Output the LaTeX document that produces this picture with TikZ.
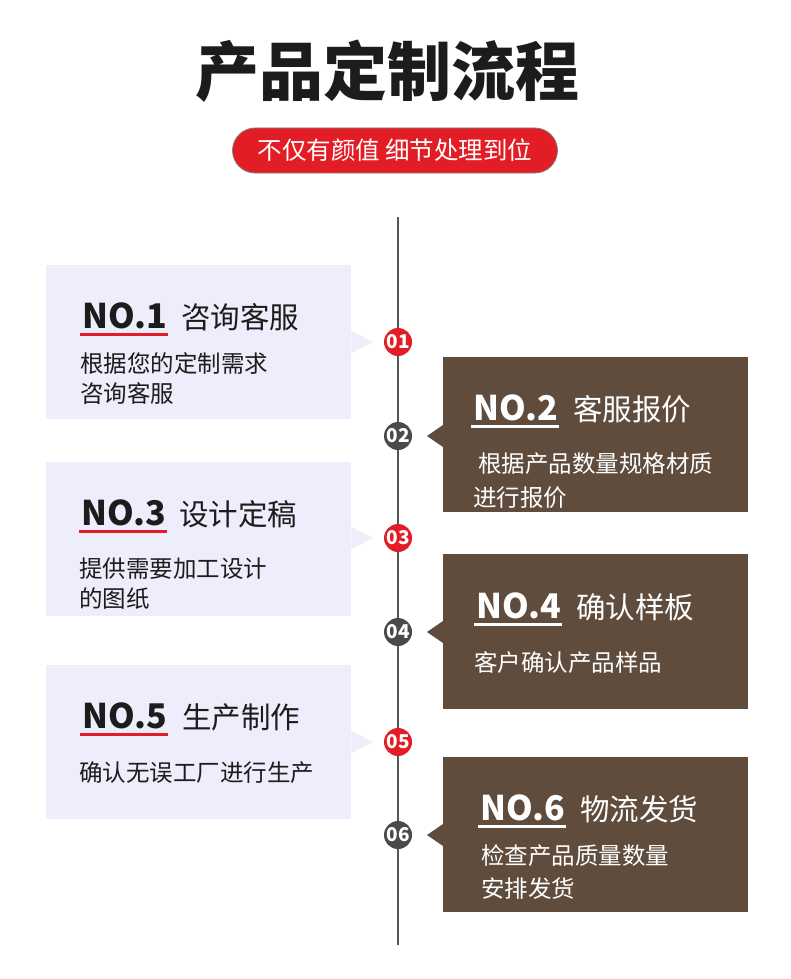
\documentclass[tikz,border=0pt]{standalone}
\usepackage{fontspec}
\setmainfont{Noto Sans CJK SC}
\usepackage{tikz}
\usetikzlibrary{positioning}

\definecolor{lavender}{HTML}{EDEDFB}
\definecolor{cocoa}{HTML}{5F4C3D}
\definecolor{pillred}{HTML}{E31D25}
\definecolor{dotgray}{HTML}{4A4A4A}
\definecolor{linegray}{HTML}{555555}
\definecolor{ink}{HTML}{1C1C1C}

\begin{document}
\begin{tikzpicture}[x=1pt, y=-1pt,
  leftbox/.style={rectangle, fill=lavender, minimum width=305pt, minimum height=154pt, anchor=north west, inner sep=0pt},
  rightbox/.style={rectangle, fill=cocoa, minimum width=305pt, minimum height=155pt, anchor=north west, inner sep=0pt},
  reddot/.style={circle, fill=pillred, minimum size=28pt, inner sep=0pt, text=white, font=\bfseries\fontsize{19}{19}\selectfont},
  graydot/.style={reddot, fill=dotgray},
  numtxt/.style={anchor=base west, inner sep=0pt, font=\bfseries\fontsize{34}{34}\selectfont},
  headtxt/.style={anchor=base west, inner sep=0pt, font=\fontsize{29.5}{29.5}\selectfont},
  bodytxt/.style={anchor=north west, inner sep=0pt, align=left, font=\fontsize{23.5}{30}\selectfont},
  redrule/.style={draw=pillred, line width=2.5pt},
  whiterule/.style={draw=white, line width=2.5pt}
]
\useasboundingbox (0,0) rectangle (790,979);

% Title and red tag
\node[font=\bfseries\fontsize{64}{64}\selectfont, text=ink] (title) at (387,71) {产品定制流程};
\node[rectangle, rounded corners=22.5pt, fill=pillred, draw=gray, line width=0.8pt,
      minimum width=325pt, minimum height=45pt, text=white,
      font=\fontsize{24.5}{24.5}\selectfont] (tag) at (395,150.5) {不仅有颜值 细节处理到位};

% Time line
\coordinate (top) at (398,217);
\coordinate (bot) at (398,945);
\draw[linegray, line width=1.5pt] (top) -- (bot);

% Boxes, left column light, right column brown
\node[leftbox]  (b1) at (46,265) {};
\node[rightbox] (b2) at (443,357) {};
\node[leftbox]  (b3) at (46,462) {};
\node[rightbox] (b4) at (443,554) {};
\node[leftbox]  (b5) at (46,665) {};
\node[rightbox] (b6) at (443,757) {};

% Step dots on the line
\node[reddot]  (c1) at (398,342) {01};
\node[graydot] (c2) at (398,436) {02};
\node[reddot]  (c3) at (398,538) {03};
\node[graydot] (c4) at (398,632) {04};
\node[reddot]  (c5) at (398,742) {05};
\node[graydot] (c6) at (398,835) {06};

% Pointers towards the dots
\foreach \i in {1,3,5}
  \fill[lavender] (b\i.east |- c\i) ++(0,-11) -- ++(22,11) -- ++(-22,11) -- cycle;
\foreach \i in {2,4,6}
  \fill[cocoa] (b\i.west |- c\i) ++(0,-11) -- ++(-16,11) -- ++(16,11) -- cycle;

% Step 1
\node[numtxt, text=ink]  (n1) at (82,328) {NO.1};
\node[headtxt, text=ink] (h1) at (181,328) {咨询客服};
\draw[redrule] ([xshift=-2pt,yshift=-6.5pt]n1.base west) -- ([yshift=-6.5pt]n1.base east);
\node[bodytxt, text=ink] (t1) at (80,352.5) {根据您的定制需求\\咨询客服};

% Step 2
\node[numtxt, text=white]  (n2) at (473,420) {NO.2};
\node[headtxt, text=white] (h2) at (573,420) {客服报价};
\draw[whiterule] ([xshift=-2pt,yshift=-6.5pt]n2.base west) -- ([yshift=-6.5pt]n2.base east);
\node[bodytxt, text=white, font=\fontsize{23.5}{34}\selectfont] (t2) at (473,452.5) {\ 根据产品数量规格材质\\进行报价};

% Step 3
\node[numtxt, text=ink]  (n3) at (81,525) {NO.3};
\node[headtxt, text=ink] (h3) at (179,525) {设计定稿};
\draw[redrule] ([xshift=-2pt,yshift=-6.5pt]n3.base west) -- ([yshift=-6.5pt]n3.base east);
\node[bodytxt, text=ink] (t3) at (79,557.5) {提供需要加工设计\\的图纸};

% Step 4
\node[numtxt, text=white]  (n4) at (476,618) {NO.4};
\node[headtxt, text=white] (h4) at (576,618) {确认样板};
\draw[whiterule] ([xshift=-2pt,yshift=-6.5pt]n4.base west) -- ([yshift=-6.5pt]n4.base east);
\node[bodytxt, text=white] (t4) at (474,651.5) {客户确认产品样品};

% Step 5
\node[numtxt, text=ink]  (n5) at (82,728) {NO.5};
\node[headtxt, text=ink] (h5) at (182,728) {生产制作};
\draw[redrule] ([xshift=-2pt,yshift=-6.5pt]n5.base west) -- ([yshift=-6.5pt]n5.base east);
\node[bodytxt, text=ink] (t5) at (79,761.5) {确认无误工厂进行生产};

% Step 6
\node[numtxt, text=white]  (n6) at (480,820) {NO.6};
\node[headtxt, text=white] (h6) at (580,820) {物流发货};
\draw[whiterule] ([xshift=-2pt,yshift=-6.5pt]n6.base west) -- ([yshift=-6.5pt]n6.base east);
\node[bodytxt, text=white, font=\fontsize{23.5}{33}\selectfont] (t6) at (481,844.5) {检查产品质量数量\\安排发货};
\end{tikzpicture}
\end{document}
